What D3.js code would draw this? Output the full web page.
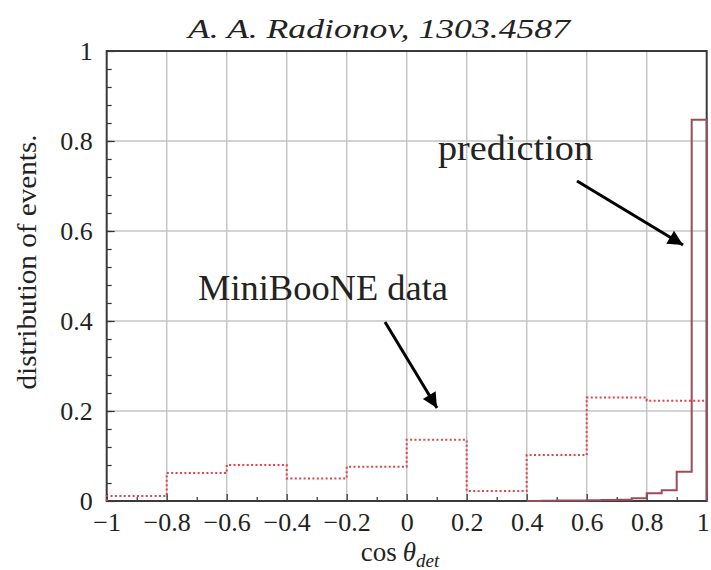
<!DOCTYPE html>
<html>
<head>
<meta charset="utf-8">
<script src="https://cdn.jsdelivr.net/npm/d3@7"></script>
<style>
  body { margin: 0; background: #fff; }
  text { font-family: "Liberation Serif", "DejaVu Serif", serif; fill: #222; }
</style>
</head>
<body>
<div id="vis"></div>
<script>
// cos theta_det distribution: MiniBooNE data vs prediction

// MiniBooNE data, bins of width 0.2
const dataBinStarts = [-1, -0.8, -0.6, -0.4, -0.2, 0, 0.2, 0.4, 0.6, 0.8];
const dataValues = [0.011, 0.062, 0.080, 0.050, 0.076, 0.136, 0.022, 0.102, 0.230, 0.223];

// prediction, bins of width 0.05 (zero below 0.4)
const predBinStarts = [0.4, 0.45, 0.5, 0.55, 0.6, 0.65, 0.7, 0.75, 0.8, 0.85, 0.9, 0.95];
const predValues = [0, 0.0005, 0.001, 0.001, 0.0015, 0.002, 0.003, 0.006, 0.017, 0.024, 0.065, 0.847];

const xTicks = [-1, -0.8, -0.6, -0.4, -0.2, 0, 0.2, 0.4, 0.6, 0.8, 1];
const yTicks = [0, 0.2, 0.4, 0.6, 0.8, 1];

const width = 711;
const height = 570;
const margin = { top: 51, right: 4.3, bottom: 69, left: 106.7 };

const svg = d3.select("#vis")
  .append("svg")
  .attr("width", width)
  .attr("height", height);

const xScale = d3.scaleLinear()
  .domain([-1, 1])
  .range([margin.left, width - margin.right]);

const yScale = d3.scaleLinear()
  .domain([0, 1])
  .range([height - margin.bottom, margin.top]);

const fmt = v => v === 0 ? "0" : (v < 0 ? "\u2212" : "") + d3.format("")(Math.abs(v));

// Grid
svg.append("g")
  .selectAll("line")
  .data(xTicks.slice(1, -1))
  .enter().append("line")
  .attr("x1", d => xScale(d)).attr("x2", d => xScale(d))
  .attr("y1", yScale(0)).attr("y2", yScale(1))
  .attr("stroke", "#c4c4c4").attr("stroke-width", 1.5);

svg.append("g")
  .selectAll("line")
  .data(yTicks.slice(1, -1))
  .enter().append("line")
  .attr("x1", xScale(-1)).attr("x2", xScale(1))
  .attr("y1", d => yScale(d)).attr("y2", d => yScale(d))
  .attr("stroke", "#c4c4c4").attr("stroke-width", 1.5);

// Axes (ticks pointing inward)
svg.append("g")
  .attr("transform", `translate(0,${yScale(0)})`)
  .call(d3.axisBottom(xScale).tickValues(d3.range(-0.9, 1, 0.2)).tickSize(-4).tickFormat(""))
  .call(g => g.select(".domain").remove());

svg.append("g")
  .attr("transform", `translate(0,${yScale(0)})`)
  .call(d3.axisBottom(xScale).tickValues(xTicks).tickSize(-7).tickPadding(12).tickFormat(fmt))
  .call(g => g.select(".domain").remove())
  .call(g => g.selectAll("text").attr("font-size", "26px").attr("fill", "#222"))
  .call(g => g.selectAll("text").filter(d => d === 1).attr("dx", -4));

svg.append("g")
  .attr("transform", `translate(${xScale(-1)},0)`)
  .call(d3.axisLeft(yScale).tickValues(d3.range(0.04, 1, 0.04)).tickSize(-5).tickFormat(""))
  .call(g => g.select(".domain").remove());

svg.append("g")
  .attr("transform", `translate(${xScale(-1)},0)`)
  .call(d3.axisLeft(yScale).tickValues(yTicks).tickSize(-8).tickPadding(14).tickFormat(fmt))
  .call(g => g.select(".domain").remove())
  .call(g => g.selectAll("text").attr("font-size", "26px").attr("fill", "#222"));

svg.selectAll(".tick line").attr("stroke", "#333").attr("stroke-width", 1.2);

// Frame
svg.append("rect")
  .attr("x", xScale(-1)).attr("y", yScale(1))
  .attr("width", xScale(1) - xScale(-1))
  .attr("height", yScale(0) - yScale(1))
  .attr("fill", "none")
  .attr("stroke", "#3a3a3a")
  .attr("stroke-width", 2);

// Step paths
function stepPath(starts, values, binWidth) {
  const p = d3.path();
  p.moveTo(xScale(starts[0]), yScale(0));
  starts.forEach((s, i) => {
    p.lineTo(xScale(s), yScale(values[i]));
    p.lineTo(xScale(s + binWidth), yScale(values[i]));
  });
  return p.toString();
}

svg.append("path")
  .attr("d", stepPath(predBinStarts, predValues, 0.05) + `L${xScale(1)},${yScale(0)}`)
  .attr("fill", "none")
  .attr("stroke", "#9a4d58")
  .attr("stroke-width", 2);

svg.append("path")
  .attr("d", stepPath(dataBinStarts, dataValues, 0.2))
  .attr("fill", "none")
  .attr("stroke", "#e0434b")
  .attr("stroke-width", 2)
  .attr("stroke-dasharray", "2,2.4");

// Arrow marker
svg.append("defs").append("marker")
  .attr("id", "head")
  .attr("viewBox", "0 0 10 10")
  .attr("refX", 10).attr("refY", 5)
  .attr("markerWidth", 6).attr("markerHeight", 5)
  .attr("markerUnits", "strokeWidth")
  .attr("orient", "auto")
  .append("path")
  .attr("d", "M0,0L10,5L0,10Z")
  .attr("fill", "#000");

// Annotations
svg.append("text")
  .attr("x", 438).attr("y", 160)
  .attr("font-size", "35px")
  .attr("textLength", 155).attr("lengthAdjust", "spacingAndGlyphs")
  .text("prediction");

svg.append("line")
  .attr("x1", 577).attr("y1", 181)
  .attr("x2", 683).attr("y2", 245)
  .attr("stroke", "#000").attr("stroke-width", 3)
  .attr("marker-end", "url(#head)");

svg.append("text")
  .attr("x", 198).attr("y", 300)
  .attr("font-size", "35px")
  .attr("textLength", 250).attr("lengthAdjust", "spacingAndGlyphs")
  .text("MiniBooNE data");

svg.append("line")
  .attr("x1", 385).attr("y1", 322)
  .attr("x2", 437).attr("y2", 408)
  .attr("stroke", "#000").attr("stroke-width", 3)
  .attr("marker-end", "url(#head)");

// Title
svg.append("text")
  .attr("x", 379).attr("y", 38)
  .attr("text-anchor", "middle")
  .attr("font-size", "28px")
  .attr("font-style", "italic")
  .attr("textLength", 382).attr("lengthAdjust", "spacingAndGlyphs")
  .text("A. A. Radionov, 1303.4587");

// Axis labels
svg.append("text")
  .attr("transform", "translate(36,262) rotate(-90)")
  .attr("text-anchor", "middle")
  .attr("font-size", "27px")
  .attr("textLength", 255).attr("lengthAdjust", "spacingAndGlyphs")
  .text("distribution of events.");

const xl = svg.append("text")
  .attr("x", 400).attr("y", 561)
  .attr("text-anchor", "middle")
  .attr("font-size", "27px");
xl.append("tspan").text("cos");
xl.append("tspan").attr("dx", 6).attr("font-style", "italic").text("θ");
xl.append("tspan").attr("dy", 6).attr("font-size", "19px").attr("font-style", "italic").text("det");

console.log("chart done");
</script>
</body>
</html>
